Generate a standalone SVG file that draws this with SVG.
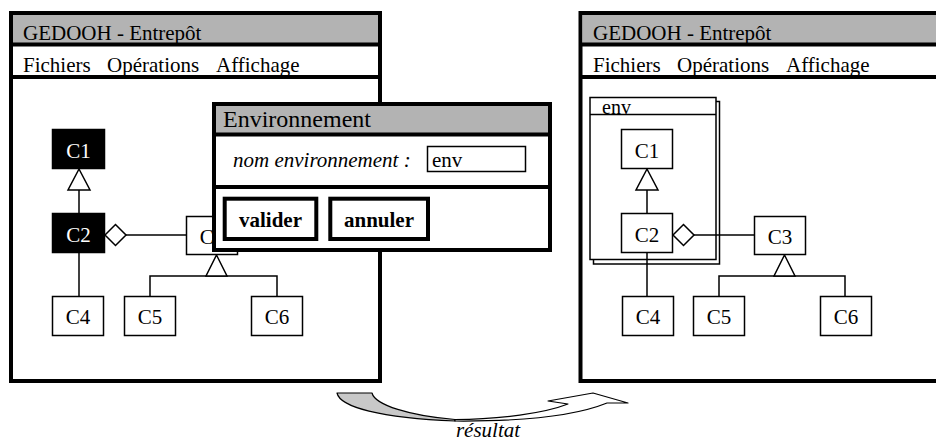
<svg xmlns="http://www.w3.org/2000/svg" width="936" height="441" viewBox="0 0 936 441">
<style>
text{font-family:"Liberation Serif","Times New Roman",serif;font-size:21px;fill:#000}
.frame{fill:#fff;stroke:#000;stroke-width:4}
.bar{fill:#b3b3b3;stroke:none}
.sep{stroke:#000;stroke-width:4}
.box{fill:#fff;stroke:#000;stroke-width:1.5}
.dark{fill:#000;stroke:#000;stroke-width:1.5}
.lbl{text-anchor:middle}
.wl{fill:#fff}
.ln{fill:none;stroke:#000;stroke-width:1.5}
.tri{fill:#fff;stroke:#000;stroke-width:1.5}
.btn{fill:#fff;stroke:#000;stroke-width:4}
.it{font-style:italic}
.bd{font-weight:bold}
</style>

<!-- Left window -->
<g id="left-window">
<rect class="frame" x="11" y="13" width="369" height="368"/>
<rect class="bar" x="13" y="15" width="365" height="29"/>
<line class="sep" x1="11" y1="44.5" x2="380" y2="44.5"/>
<line class="sep" x1="11" y1="77" x2="380" y2="77"/>
<text x="23" y="40">GEDOOH - Entrepôt</text>
<text x="23" y="72">Fichiers</text>
<text x="107" y="72">Opérations</text>
<text x="216" y="72">Affichage</text>
</g>

<g id="connectors-left">
<line class="ln" x1="79" y1="190" x2="79" y2="213"/>
<polygon class="tri" points="79,169 90,190 68,190"/>
<line class="ln" x1="79" y1="253" x2="79" y2="296"/>
<line class="ln" x1="126" y1="235" x2="186" y2="235"/>
<polygon class="tri" points="105,235 115.5,224.5 126,235 115.5,245.5"/>
<polyline class="ln" points="150,296 150,276 277,276 277,296"/>
<polygon class="tri" points="216.5,255 227,276 206,276"/>
</g>

<g id="L-C1"><rect class="dark" x="52.5" y="129.5" width="52" height="39"/><text class="lbl wl" x="78.5" y="157.5">C1</text></g>
<g id="L-C2"><rect class="dark" x="52.5" y="213.5" width="52" height="39"/><text class="lbl wl" x="78.5" y="241.5">C2</text></g>
<g id="L-C3"><rect class="box" x="186.5" y="216.5" width="51" height="38"/><text class="lbl" x="212" y="243.5">C3</text></g>
<g id="L-C4"><rect class="box" x="52.5" y="296.5" width="51" height="39"/><text class="lbl" x="78" y="324">C4</text></g>
<g id="L-C5"><rect class="box" x="124.5" y="296.5" width="51" height="39"/><text class="lbl" x="150" y="324">C5</text></g>
<g id="L-C6"><rect class="box" x="251.5" y="296.5" width="51" height="39"/><text class="lbl" x="277" y="324">C6</text></g>

<!-- Dialog -->
<g id="dialog">
<rect class="frame" x="214" y="104" width="336" height="146"/>
<rect class="bar" x="216" y="106" width="332" height="27"/>
<line class="sep" x1="214" y1="134.5" x2="550" y2="134.5"/>
<line class="sep" x1="214" y1="187" x2="550" y2="187"/>
<text x="223" y="127" style="font-size:24px">Environnement</text>
<text class="it" x="233" y="167">nom environnement :</text>
<rect class="box" x="427.5" y="146.5" width="98" height="25"/>
<text x="432" y="167">env</text>
</g>
<g id="btn-valider"><rect class="btn" x="224.7" y="198.7" width="91.6" height="40.3"/><text class="lbl bd" x="270.5" y="227">valider</text></g>
<g id="btn-annuler"><rect class="btn" x="330.3" y="198.7" width="97.7" height="40.3"/><text class="lbl bd" x="379" y="227">annuler</text></g>

<!-- Right window -->
<g id="right-window">
<rect class="frame" x="580.5" y="13" width="400" height="368"/>
<rect class="bar" x="582.5" y="15" width="360" height="29"/>
<line class="sep" x1="580" y1="44.5" x2="940" y2="44.5"/>
<line class="sep" x1="580" y1="77" x2="940" y2="77"/>
<text x="593" y="40">GEDOOH - Entrepôt</text>
<text x="593" y="72">Fichiers</text>
<text x="677" y="72">Opérations</text>
<text x="786" y="72">Affichage</text>
</g>

<g id="package-env">
<rect class="box" x="593.5" y="101.5" width="126" height="162.5"/>
<rect class="box" x="590" y="97.5" width="126" height="162"/>
<line class="ln" x1="590" y1="114.5" x2="716" y2="114.5"/>
<text x="602" y="113.5" style="font-size:20px">env</text>
</g>

<g id="connectors-right">
<line class="ln" x1="647" y1="190" x2="647" y2="213"/>
<polygon class="tri" points="647,169 658,190 636,190"/>
<line class="ln" x1="647" y1="253" x2="647" y2="296"/>
<line class="ln" x1="694" y1="235" x2="754" y2="235"/>
<polygon class="tri" points="673,235 683.5,224.5 694,235 683.5,245.5"/>
<polyline class="ln" points="719,296 719,276 845,276 845,296"/>
<polygon class="tri" points="784.5,255 795,276 774,276"/>
</g>

<g id="R-C1"><rect class="box" x="621.5" y="129.5" width="51" height="39"/><text class="lbl" x="647" y="157.5">C1</text></g>
<g id="R-C2"><rect class="box" x="621.5" y="213.5" width="51" height="39"/><text class="lbl" x="647" y="241.5">C2</text></g>
<g id="R-C3"><rect class="box" x="754.5" y="216.5" width="51" height="38"/><text class="lbl" x="780" y="243.5">C3</text></g>
<g id="R-C4"><rect class="box" x="622.5" y="296.5" width="51" height="39"/><text class="lbl" x="648" y="324">C4</text></g>
<g id="R-C5"><rect class="box" x="693.5" y="296.5" width="51" height="39"/><text class="lbl" x="719" y="324">C5</text></g>
<g id="R-C6"><rect class="box" x="820.5" y="296.5" width="51" height="39"/><text class="lbl" x="846" y="324">C6</text></g>

<!-- Result arrow -->
<g id="result-arrow">
<path d="M337,393 L372,393 C375,405 410,416 455,419.5 L455,421 C380,418 340,407 337,393 Z" fill="#c8c8c8" stroke="#000" stroke-width="1.2" stroke-linejoin="round"/>
<path d="M455,421 C520,421.5 575,416 607,403 L628,403 L593,393 L548,401 L568,404 C545,413 500,419.5 455,419.5 Z" fill="#fff" stroke="#000" stroke-width="1.2" stroke-linejoin="round"/>
<text class="it lbl" x="488" y="437">résultat</text>
</g>
</svg>
